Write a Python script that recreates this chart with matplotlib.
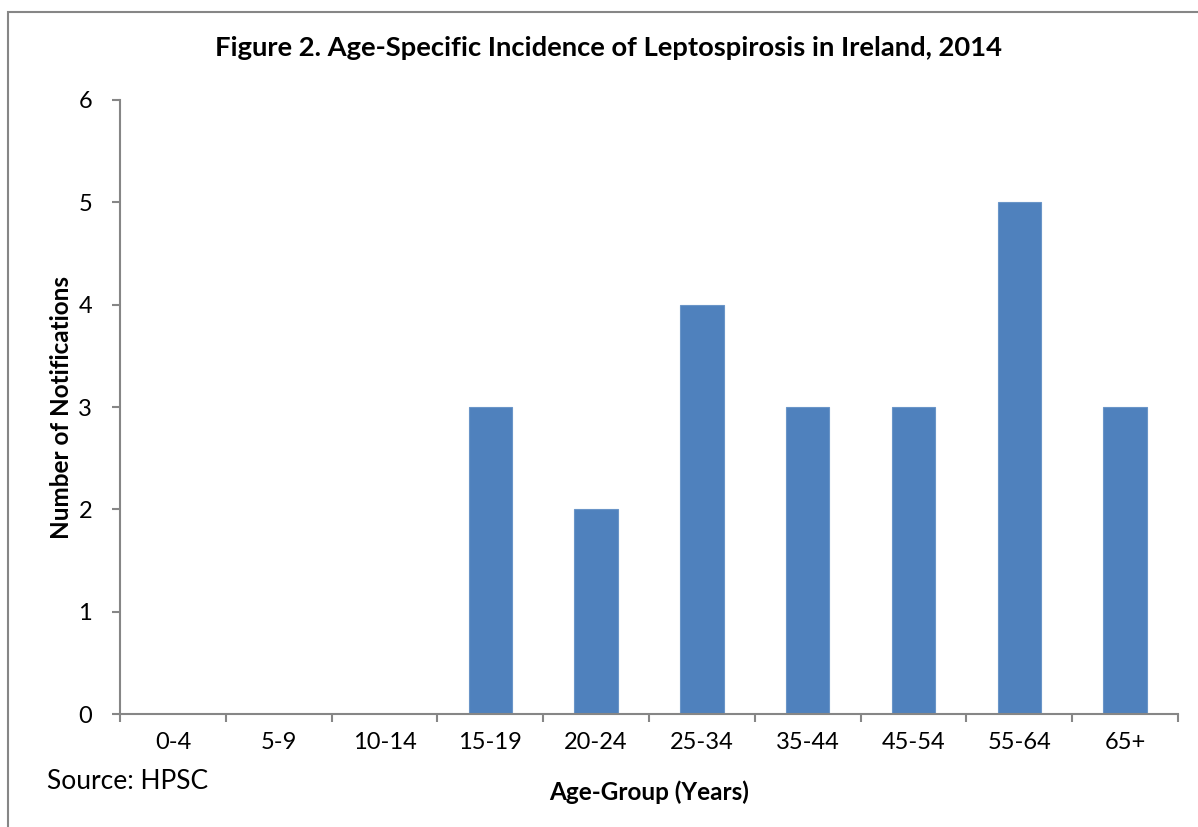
import matplotlib
matplotlib.use('Agg')
import matplotlib.pyplot as plt
from matplotlib.patches import Rectangle

# Данные
age_groups = ['0-4', '5-9', '10-14', '15-19', '20-24', '25-34', '35-44', '45-54', '55-64', '65+']
notifications = [0, 0, 0, 3, 2, 4, 3, 3, 5, 3]

plt.rcParams['font.family'] = ['Lato', 'DejaVu Sans']

fig = plt.figure(figsize=(11.98, 8.27), dpi=100)
ax = fig.add_axes([0.1002, 0.1366, 0.8831, 0.7425])

x = range(len(age_groups))
ax.bar(x, notifications, width=0.41, color='#4F81BD', edgecolor='#6A95C8', linewidth=0.8)

ax.set_xlim(-0.5, len(age_groups) - 0.5)
ax.set_ylim(0, 6)
ax.set_yticks(range(0, 7))
ax.set_xticks(list(x))
ax.set_xticklabels(age_groups)
ax.set_xticks([i - 0.5 for i in range(len(age_groups) + 1)], minor=True)

for s in ['top', 'right']:
    ax.spines[s].set_visible(False)
for s in ['left', 'bottom']:
    ax.spines[s].set_color('#868686')
    ax.spines[s].set_linewidth(1.5)

ax.tick_params(axis='x', which='major', length=0, pad=13, labelsize=17)
ax.tick_params(axis='x', which='minor', length=6, width=1.5, color='#868686')
ax.tick_params(axis='y', which='major', length=6, width=1.5, color='#868686', pad=14, labelsize=17)

ax.set_ylabel('Number of Notifications', fontsize=17.5, fontweight='bold', labelpad=4)
ax.set_xlabel('Age-Group (Years)', fontsize=17.5, fontweight='bold', labelpad=20)

fig.text(0.508, 0.942, 'Figure 2. Age-Specific Incidence of Leptospirosis in Ireland, 2014',
         fontsize=19.7, fontweight='bold', ha='center', va='center')
fig.text(0.039, 0.055, 'Source: HPSC', fontsize=19, ha='left', va='center')

# рамка диаграммы
fig.patches.append(Rectangle((8 / 1198, -0.05), 1.1, 1 - 12 / 827 + 0.05,
                             transform=fig.transFigure, fill=False,
                             edgecolor='#868686', linewidth=1.5))

fig.savefig('out.png', dpi=100, facecolor='white')
